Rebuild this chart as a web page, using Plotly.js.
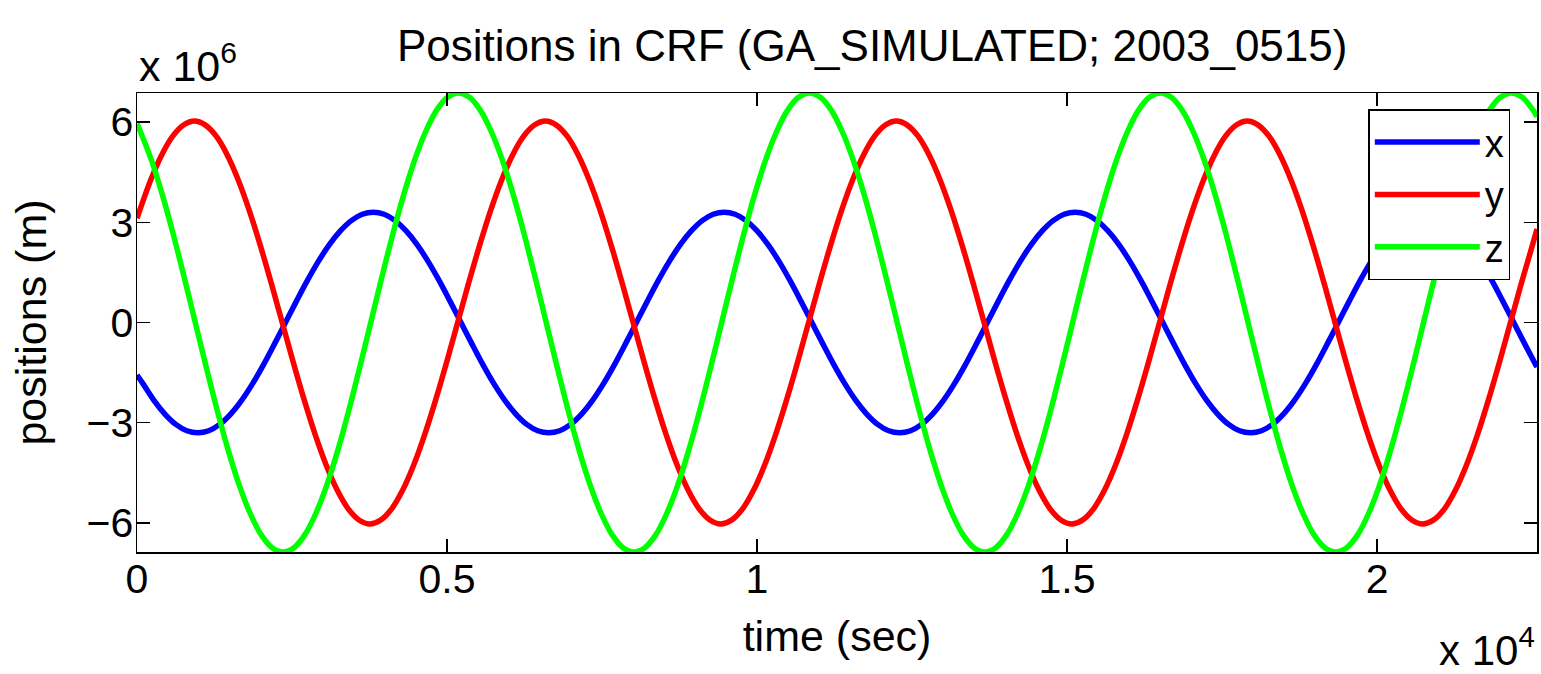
<!DOCTYPE html>
<html>
<head>
<meta charset="utf-8">
<script src="https://cdn.plot.ly/plotly-3.0.1.min.js"></script>
<style>
  html, body { margin: 0; padding: 0; background: #ffffff; }
  #chart { width: 1541px; height: 674px; }
</style>
</head>
<body>
<div id="chart"></div>
<script>
// Series: time in s, positions in units of 10^6 m
const timeX = [0, 95.625, 272.5, 449.375, 626.25, 803.125, 980, 1156.875, 1333.75, 1510.625, 1687.5, 1864.375, 2041.25, 2218.125, 2395, 2571.875, 2748.75, 2925.625, 3102.5, 3279.375, 3456.25, 3633.125, 3810, 3986.875, 4163.75, 4340.625, 4517.5, 4694.375, 4871.25, 5048.125, 5225, 5401.875, 5578.75, 5755.625, 5932.5, 6109.375, 6286.25, 6463.125, 6640, 6816.875, 6993.75, 7170.625, 7347.5, 7524.375, 7701.25, 7878.125, 8055, 8231.875, 8408.75, 8585.625, 8762.5, 8939.375, 9116.25, 9293.125, 9470, 9646.875, 9823.75, 10000.625, 10177.5, 10354.375, 10531.25, 10708.125, 10885, 11061.875, 11238.75, 11415.625, 11592.5, 11769.375, 11946.25, 12123.125, 12300, 12476.875, 12653.75, 12830.625, 13007.5, 13184.375, 13361.25, 13538.125, 13715, 13891.875, 14068.75, 14245.625, 14422.5, 14599.375, 14776.25, 14953.125, 15130, 15306.875, 15483.75, 15660.625, 15837.5, 16014.375, 16191.25, 16368.125, 16545, 16721.875, 16898.75, 17075.625, 17252.5, 17429.375, 17606.25, 17783.125, 17960, 18136.875, 18313.75, 18490.625, 18667.5, 18844.375, 19021.25, 19198.125, 19375, 19551.875, 19728.75, 19905.625, 20082.5, 20259.375, 20436.25, 20613.125, 20790, 20966.875, 21143.75, 21320.625, 21497.5, 21674.375, 21851.25, 22028.125, 22205, 22381.875, 22558.75, 22580];
const posX = [-1.57,
  -1.83, -2.33, -2.74, -3.05, -3.24, -3.30, -3.24, -3.05, -2.74, -2.33, -1.83, -1.26, -0.64, 0, 0.64, 1.26, 1.83, 2.33, 2.74, 3.05, 3.24, 3.30, 3.24, 3.05, 2.74, 2.33, 1.83, 1.26, 0.64, 0, -0.64, -1.26,
  -1.83, -2.33, -2.74, -3.05, -3.24, -3.30, -3.24, -3.05, -2.74, -2.33, -1.83, -1.26, -0.64, 0, 0.64, 1.26, 1.83, 2.33, 2.74, 3.05, 3.24, 3.30, 3.24, 3.05, 2.74, 2.33, 1.83, 1.26, 0.64, 0, -0.64, -1.26,
  -1.83, -2.33, -2.74, -3.05, -3.24, -3.30, -3.24, -3.05, -2.74, -2.33, -1.83, -1.26, -0.64, 0, 0.64, 1.26, 1.83, 2.33, 2.74, 3.05, 3.24, 3.30, 3.24, 3.05, 2.74, 2.33, 1.83, 1.26, 0.64, 0, -0.64, -1.26,
  -1.83, -2.33, -2.74, -3.05, -3.24, -3.30, -3.24, -3.05, -2.74, -2.33, -1.83, -1.26, -0.64, 0, 0.64, 1.26, 1.83, 2.33, 2.74, 3.05, 3.24, 3.30, 3.24, 3.05, 2.74, 2.33, 1.83, 1.26, 0.64, 0, -0.64, -1.26,
  -1.33];

const timeY = [0, 42.625, 219.5, 396.375, 573.25, 750.125, 927, 1103.875, 1280.75, 1457.625, 1634.5, 1811.375, 1988.25, 2165.125, 2342, 2518.875, 2695.75, 2872.625, 3049.5, 3226.375, 3403.25, 3580.125, 3757, 3933.875, 4110.75, 4287.625, 4464.5, 4641.375, 4818.25, 4995.125, 5172, 5348.875, 5525.75, 5702.625, 5879.5, 6056.375, 6233.25, 6410.125, 6587, 6763.875, 6940.75, 7117.625, 7294.5, 7471.375, 7648.25, 7825.125, 8002, 8178.875, 8355.75, 8532.625, 8709.5, 8886.375, 9063.25, 9240.125, 9417, 9593.875, 9770.75, 9947.625, 10124.5, 10301.375, 10478.25, 10655.125, 10832, 11008.875, 11185.75, 11362.625, 11539.5, 11716.375, 11893.25, 12070.125, 12247, 12423.875, 12600.75, 12777.625, 12954.5, 13131.375, 13308.25, 13485.125, 13662, 13838.875, 14015.75, 14192.625, 14369.5, 14546.375, 14723.25, 14900.125, 15077, 15253.875, 15430.75, 15607.625, 15784.5, 15961.375, 16138.25, 16315.125, 16492, 16668.875, 16845.75, 17022.625, 17199.5, 17376.375, 17553.25, 17730.125, 17907, 18083.875, 18260.75, 18437.625, 18614.5, 18791.375, 18968.25, 19145.125, 19322, 19498.875, 19675.75, 19852.625, 20029.5, 20206.375, 20383.25, 20560.125, 20737, 20913.875, 21090.75, 21267.625, 21444.5, 21621.375, 21798.25, 21975.125, 22152, 22328.875, 22505.75, 22580];
const posY = [3.12,
  3.35, 4.26, 5.01, 5.57, 5.91, 6.03, 5.91, 5.57, 5.01, 4.26, 3.35, 2.31, 1.18, 0, -1.18, -2.31, -3.35, -4.26, -5.01, -5.57, -5.91, -6.03, -5.91, -5.57, -5.01, -4.26, -3.35, -2.31, -1.18, 0, 1.18, 2.31,
  3.35, 4.26, 5.01, 5.57, 5.91, 6.03, 5.91, 5.57, 5.01, 4.26, 3.35, 2.31, 1.18, 0, -1.18, -2.31, -3.35, -4.26, -5.01, -5.57, -5.91, -6.03, -5.91, -5.57, -5.01, -4.26, -3.35, -2.31, -1.18, 0, 1.18, 2.31,
  3.35, 4.26, 5.01, 5.57, 5.91, 6.03, 5.91, 5.57, 5.01, 4.26, 3.35, 2.31, 1.18, 0, -1.18, -2.31, -3.35, -4.26, -5.01, -5.57, -5.91, -6.03, -5.91, -5.57, -5.01, -4.26, -3.35, -2.31, -1.18, 0, 1.18, 2.31,
  3.35, 4.26, 5.01, 5.57, 5.91, 6.03, 5.91, 5.57, 5.01, 4.26, 3.35, 2.31, 1.18, 0, -1.18, -2.31, -3.35, -4.26, -5.01, -5.57, -5.91, -6.03, -5.91, -5.57, -5.01, -4.26, -3.35, -2.31, -1.18, 0, 1.18, 2.31,
  2.80];

const timeZ = [0, 55.625, 232.5, 409.375, 586.25, 763.125, 940, 1116.875, 1293.75, 1470.625, 1647.5, 1824.375, 2001.25, 2178.125, 2355, 2531.875, 2708.75, 2885.625, 3062.5, 3239.375, 3416.25, 3593.125, 3770, 3946.875, 4123.75, 4300.625, 4477.5, 4654.375, 4831.25, 5008.125, 5185, 5361.875, 5538.75, 5715.625, 5892.5, 6069.375, 6246.25, 6423.125, 6600, 6776.875, 6953.75, 7130.625, 7307.5, 7484.375, 7661.25, 7838.125, 8015, 8191.875, 8368.75, 8545.625, 8722.5, 8899.375, 9076.25, 9253.125, 9430, 9606.875, 9783.75, 9960.625, 10137.5, 10314.375, 10491.25, 10668.125, 10845, 11021.875, 11198.75, 11375.625, 11552.5, 11729.375, 11906.25, 12083.125, 12260, 12436.875, 12613.75, 12790.625, 12967.5, 13144.375, 13321.25, 13498.125, 13675, 13851.875, 14028.75, 14205.625, 14382.5, 14559.375, 14736.25, 14913.125, 15090, 15266.875, 15443.75, 15620.625, 15797.5, 15974.375, 16151.25, 16328.125, 16505, 16681.875, 16858.75, 17035.625, 17212.5, 17389.375, 17566.25, 17743.125, 17920, 18096.875, 18273.75, 18450.625, 18627.5, 18804.375, 18981.25, 19158.125, 19335, 19511.875, 19688.75, 19865.625, 20042.5, 20219.375, 20396.25, 20573.125, 20750, 20926.875, 21103.75, 21280.625, 21457.5, 21634.375, 21811.25, 21988.125, 22165, 22341.875, 22518.75, 22580];
const posZ = [5.95,
  5.71, 4.86, 3.82, 2.63, 1.34, 0, -1.34, -2.63, -3.82, -4.86, -5.71, -6.35, -6.74, -6.87, -6.74, -6.35, -5.71, -4.86, -3.82, -2.63, -1.34, 0, 1.34, 2.63, 3.82, 4.86, 5.71, 6.35, 6.74, 6.87, 6.74, 6.35,
  5.71, 4.86, 3.82, 2.63, 1.34, 0, -1.34, -2.63, -3.82, -4.86, -5.71, -6.35, -6.74, -6.87, -6.74, -6.35, -5.71, -4.86, -3.82, -2.63, -1.34, 0, 1.34, 2.63, 3.82, 4.86, 5.71, 6.35, 6.74, 6.87, 6.74, 6.35,
  5.71, 4.86, 3.82, 2.63, 1.34, 0, -1.34, -2.63, -3.82, -4.86, -5.71, -6.35, -6.74, -6.87, -6.74, -6.35, -5.71, -4.86, -3.82, -2.63, -1.34, 0, 1.34, 2.63, 3.82, 4.86, 5.71, 6.35, 6.74, 6.87, 6.74, 6.35,
  5.71, 4.86, 3.82, 2.63, 1.34, 0, -1.34, -2.63, -3.82, -4.86, -5.71, -6.35, -6.74, -6.87, -6.74, -6.35, -5.71, -4.86, -3.82, -2.63, -1.34, 0, 1.34, 2.63, 3.82, 4.86, 5.71, 6.35, 6.74, 6.87, 6.74, 6.35,
  6.16];

const seriesNames = ['x', 'y', 'z'];
const seriesColors = ['#0000ff', '#ff0000', '#00ff00'];
const xTickVals = [0, 5000, 10000, 15000, 20000];
const xTickText = ['0', '0.5', '1', '1.5', '2'];
const yTickVals = [-6, -3, 0, 3, 6];
const yTickText = ['\u22126', '\u22123', '0', '3', '6'];

const FONT = 'Liberation Sans, Arial, Helvetica, sans-serif';

const xs = [timeX, timeY, timeZ];
const ys = [posX, posY, posZ];
const traces = seriesNames.map((n, i) => ({
  x: xs[i], y: ys[i], name: n, type: 'scatter', mode: 'lines',
  line: {color: seriesColors[i], width: 5.5, shape: 'spline', smoothing: 1, simplify: false}
}));

const axisCommon = {
  showline: true, linecolor: '#000000', linewidth: 1.5, mirror: 'ticks',
  ticks: 'inside', ticklen: 13, tickwidth: 1.2, tickcolor: '#000000',
  showgrid: false, zeroline: false,
  tickfont: {family: FONT, size: 41, color: '#000000'}
};

const layout = {
  width: 1541, height: 674,
  margin: {l: 137, r: 4, t: 93, b: 122, pad: 0},
  paper_bgcolor: '#ffffff', plot_bgcolor: '#ffffff',
  font: {family: FONT, color: '#000000'},
  title: {text: 'Positions in CRF (GA_SIMULATED; 2003_0515)',
          font: {family: FONT, size: 44, color: '#000000'},
          xref: 'container', x: 0.566, xanchor: 'center',
          yref: 'container', y: 0.932, yanchor: 'middle'},
  xaxis: Object.assign({}, axisCommon, {
    range: [0, 22580], tickmode: 'array', tickvals: xTickVals, ticktext: xTickText,
    ticklabelstandoff: 0,
    title: {text: 'time (sec)', font: {family: FONT, size: 43, color: '#000000'}, standoff: 0}
  }),
  yaxis: Object.assign({}, axisCommon, {
    range: [-6.87, 6.87], tickmode: 'array', tickvals: yTickVals, ticktext: yTickText,
    ticklabelstandoff: 0,
    title: {text: 'positions (m)', font: {family: FONT, size: 43, color: '#000000'}, standoff: 20}
  }),
  showlegend: true,
  legend: {x: 0.8795, y: 0.9645, xanchor: 'left', yanchor: 'top',
           bgcolor: '#ffffff', bordercolor: '#000000', borderwidth: 1.5,
           font: {family: FONT, size: 38, color: '#000000'},
           itemwidth: 105, tracegroupgap: 0},
  annotations: [
    {text: 'x 10<sup>6</sup>', xref: 'paper', yref: 'paper', x: 0, y: 1.003,
     xanchor: 'left', yanchor: 'bottom', showarrow: false,
     font: {family: FONT, size: 43, color: '#000000'}},
    {text: 'x 10<sup>4</sup>', xref: 'paper', yref: 'paper', x: 1, y: -0.27,
     xanchor: 'right', yanchor: 'bottom', showarrow: false,
     font: {family: FONT, size: 42, color: '#000000'}}
  ]
};

Plotly.newPlot('chart', traces, layout, {displayModeBar: false, staticPlot: true}).then(function (gd) {
  // nudge tick labels closer to the axes, as in the reference
  gd.querySelectorAll('g.xtick text').forEach(function (t) {
    t.setAttribute('y', parseFloat(t.getAttribute('y') || 0) - 10);
  });
  gd.querySelectorAll('g.ytick text').forEach(function (t) {
    t.setAttribute('x', parseFloat(t.getAttribute('x') || 0) + 6);
  });
});
</script>
</body>
</html>
